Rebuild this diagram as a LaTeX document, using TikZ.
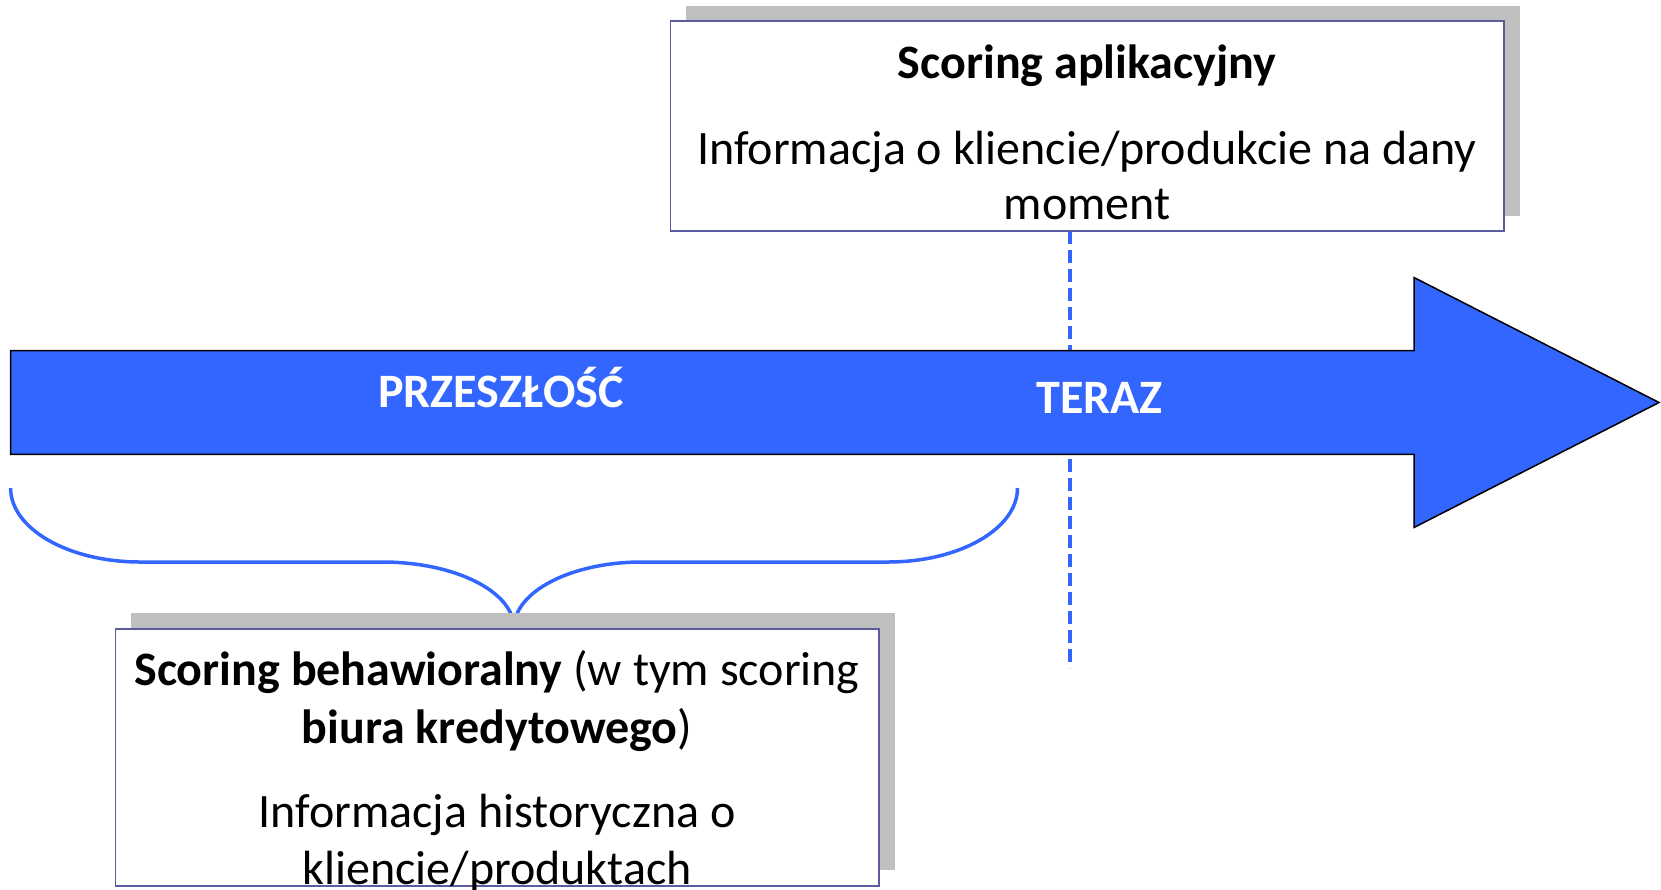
\documentclass[tikz,border=0pt]{standalone}
\usepackage{fontspec}
\setmainfont{Carlito}
\usetikzlibrary{positioning, calc}

\definecolor{timeblue}{HTML}{3366FF}
\definecolor{boxedge}{HTML}{5B5B9E}
\definecolor{shadowgray}{HTML}{BFBFBF}

\begin{document}
\begin{tikzpicture}[
    x=1pt, y=-1pt,
    infobox/.style={draw=boxedge, line width=1.5pt, fill=white},
    shadowbox/.style={fill=shadowgray},
    boxtext/.style={font=\fontsize{48}{56}\selectfont, anchor=base, inner sep=0pt},
    arrowtext/.style={font=\fontsize{48}{56}\selectfont\bfseries, text=white, anchor=base, inner sep=0pt},
    timeline/.style={fill=timeblue, draw=black, line width=1.5pt},
    nowline/.style={draw=timeblue, line width=3.5pt, dash pattern=on 13pt off 6pt},
    bracket/.style={draw=timeblue, line width=3.5pt}
]
\useasboundingbox (0,0) rectangle (1661,889);

% ============================================================
% NOW MARKER (dashed, behind the arrow)
% ============================================================
\draw[nowline] (1070,231) -- (1070,668);

% ============================================================
% TIME ARROW
% shaft y 350.6..454.4, head base x=1414, tip (1659,402.5)
% ============================================================
\draw[timeline] (10.6,350.6) -- (1414,350.6) -- (1414,277.5) -- (1659,402.5)
    -- (1414,527.5) -- (1414,454.4) -- (10.6,454.4) -- cycle;
\node[arrowtext] (past) at (501,407) {PRZESZŁOŚĆ};
\node[arrowtext] (now) at (1099.5,413) {TERAZ};

% ============================================================
% TOP BOX: application scoring
% ============================================================
\fill[shadowbox] (686,6) rectangle (1520,216);
\draw[infobox] (670.5,21) rectangle (1504,231);
\node[boxtext] (apptitle) at (1087,78) {\textbf{Scoring aplikacyjny}};
\node[boxtext] (appline1) at (1087,164) {Informacja o kliencie/produkcie na dany};
\node[boxtext] (appline2) at (1087,219) {moment};

% ============================================================
% BRACE over the past
% ============================================================
\draw[bracket] (10.6,488) .. controls (10.6,528.8) and (68.6,562) .. (140,562)
    -- (382,562) .. controls (454.9,562) and (514,591.6) .. (514,628)
    .. controls (514,591.6) and (571.3,562) .. (642,562)
    -- (888,562) .. controls (959.5,562) and (1017.5,528.8) .. (1017.5,488);

% ============================================================
% BOTTOM BOX: behavioural scoring
% ============================================================
\fill[shadowbox] (131,613) rectangle (895,870);
\draw[infobox] (115.5,629) rectangle (879,886);
\node[boxtext] (behline1) at (497,685) {\textbf{Scoring behawioralny} (w tym scoring};
\node[boxtext] (behline2) at (497,743.5) {\textbf{biura kredytowego})};
\node[boxtext] (behline3) at (497,827) {Informacja historyczna o};
\node[boxtext] (behline4) at (497,884.5) {kliencie/produktach};

\end{tikzpicture}
\end{document}
